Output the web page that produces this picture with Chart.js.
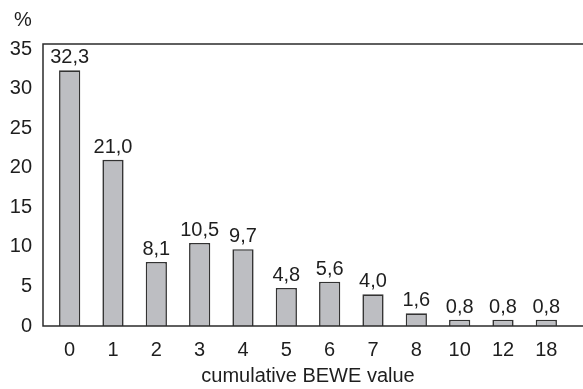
<!DOCTYPE html>
<html>
<head>
<meta charset="utf-8">
<script src="https://cdn.jsdelivr.net/npm/chart.js@4/dist/chart.umd.min.js"></script>
<style>
  html, body { margin: 0; padding: 0; background: #fff; }
  #wrap { width: 583px; height: 389px; }
</style>
</head>
<body>
<div id="wrap"><canvas id="bewe"></canvas></div>
<script>
const categories = ['0', '1', '2', '3', '4', '5', '6', '7', '8', '10', '12', '18'];
const percentages = [32.3, 21.0, 8.1, 10.5, 9.7, 4.8, 5.6, 4.0, 1.6, 0.8, 0.8, 0.8];
const yTicks = [0, 5, 10, 15, 20, 25, 30, 35];

const textColor = '#1e1e1e';
const fontFamily = '"Liberation Sans", Arial, sans-serif';
const fontSize = 20;

// frame: left line + top line + bottom line running out to the canvas edge
const framePlugin = {
    id: 'frame',
    afterDraw(chart) {
        const c = chart.ctx, a = chart.chartArea;
        const x0 = a.left - 5;
        const yTop = a.top - 5;
        c.save();
        c.strokeStyle = '#2b2b2b';
        c.lineWidth = 1.5;
        c.beginPath();
        c.moveTo(chart.width, yTop);
        c.lineTo(x0, yTop);
        c.lineTo(x0, a.bottom);
        c.lineTo(chart.width, a.bottom);
        c.stroke();
        c.fillStyle = textColor;
        c.font = fontSize + 'px ' + fontFamily;
        c.textAlign = 'center';
        c.textBaseline = 'middle';
        c.fillText('%', 23, 20);
        c.restore();
    }
};

// value labels above bars, decimal comma
const labelPlugin = {
    id: 'barLabels',
    afterDatasetsDraw(chart) {
        const c = chart.ctx;
        const meta = chart.getDatasetMeta(0);
        c.save();
        c.fillStyle = textColor;
        c.font = fontSize + 'px ' + fontFamily;
        c.textAlign = 'center';
        c.textBaseline = 'alphabetic';
        meta.data.forEach((bar, i) => {
            c.fillText(percentages[i].toFixed(1).replace('.', ','), bar.x, bar.y - 7);
        });
        c.restore();
    }
};

new Chart(document.getElementById('bewe'), {
    type: 'bar',
    data: {
        labels: categories,
        datasets: [{
            data: percentages,
            backgroundColor: '#bdbec2',
            borderColor: '#333333',
            borderWidth: 1.6,
            borderSkipped: 'bottom',
            barPercentage: 0.49,
            categoryPercentage: 1
        }]
    },
    options: {
        responsive: true,
        maintainAspectRatio: false,
        animation: false,
        layout: { padding: { top: 49, right: 15, left: 0, bottom: 0 } },
        plugins: { legend: { display: false }, tooltip: { enabled: false } },
        scales: {
            y: {
                min: 0,
                max: 35,
                afterFit(scale) { scale.width = 48; },
                afterBuildTicks(scale) { scale.ticks = yTicks.map(v => ({ value: v })); },
                grid: { display: false, drawTicks: false },
                border: { display: false },
                ticks: { color: textColor, font: { size: fontSize, family: fontFamily }, padding: 16 }
            },
            x: {
                afterFit(scale) { scale.height = 63; },
                grid: { display: false, drawTicks: false },
                border: { display: false },
                ticks: { color: textColor, font: { size: fontSize, family: fontFamily }, padding: 12, maxRotation: 0, autoSkip: false },
                title: {
                    display: true,
                    text: 'cumulative BEWE value',
                    color: textColor,
                    font: { size: fontSize, family: fontFamily },
                    padding: { top: 0, bottom: 1 }
                }
            }
        }
    },
    plugins: [framePlugin, labelPlugin]
});
</script>
</body>
</html>
